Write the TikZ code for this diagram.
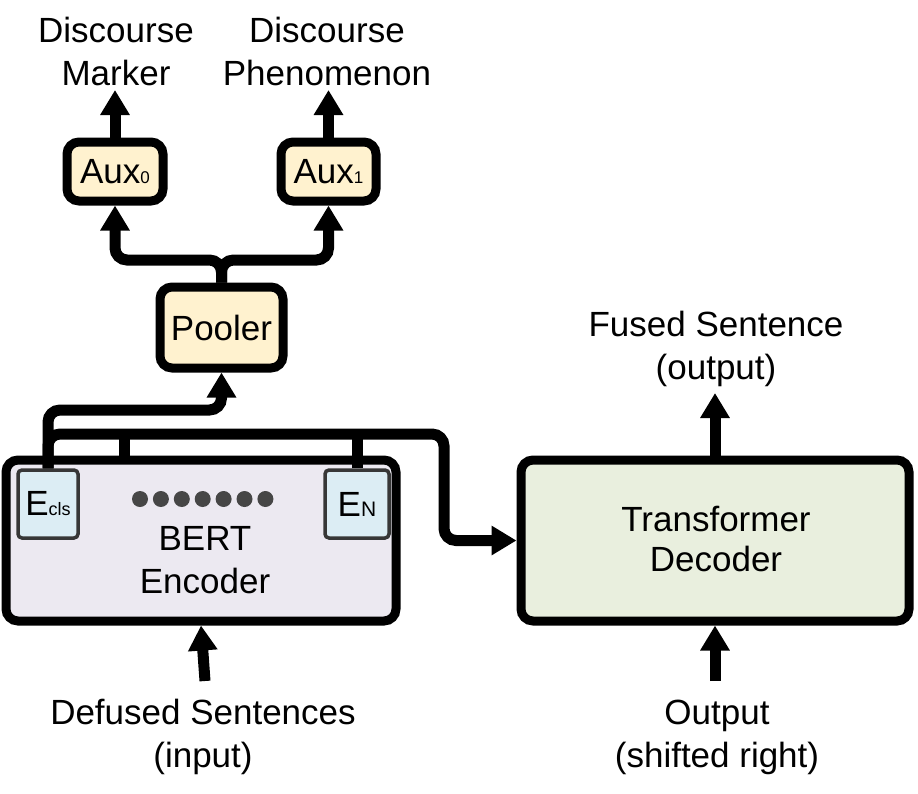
\documentclass[tikz,border=0pt]{standalone}
\usepackage{fontspec}
\setmainfont{Liberation Sans}
\usetikzlibrary{arrows.meta}
\definecolor{bertfill}{RGB}{236,233,241}
\definecolor{decfill}{RGB}{233,239,222}
\definecolor{yelfill}{RGB}{255,242,207}
\definecolor{embfill}{RGB}{220,237,244}
\definecolor{embdraw}{RGB}{55,55,55}
\definecolor{dotgray}{RGB}{70,70,70}
\begin{document}
\begin{tikzpicture}[x=1pt,y=-1pt,
  box/.style={draw=black, line width=9pt, rounded corners=12pt, inner sep=0pt, align=center,
    font=\fontsize{35}{41}\selectfont},
  ybox/.style={box, fill=yelfill},
  emb/.style={draw=embdraw, fill=embfill, line width=3.5pt, rounded corners=4pt, inner sep=0pt,
    minimum width=60pt, minimum height=68pt, font=\fontsize{35}{41}\selectfont},
  lbl/.style={align=center, inner sep=0pt, anchor=base, font=\fontsize{35}{43}\selectfont},
  conn/.style={line width=11pt, rounded corners=12pt},
  arr/.style={conn, -{Triangle[width=28pt,length=25pt]}}]
\useasboundingbox (0,0) rectangle (918,793);

% boxes
\node[box, fill=bertfill, minimum width=390pt, minimum height=161pt] (bert) at (201,540.5) {};
\node[box, fill=decfill, minimum width=388pt, minimum height=161pt] (dec) at (715,540.5) {};
\node[lbl, font=\fontsize{35}{40}\selectfont] (dectxt) at (716,571) {Transformer\\Decoder};
\node[ybox, minimum width=123pt, minimum height=81pt] (pool) at (221.5,327.5) {Pooler};
\node[ybox, minimum width=96pt, minimum height=59pt] (aux0) at (115,171.5) {Aux{\fontsize{17}{17}\selectfont 0}};
\node[ybox, minimum width=95pt, minimum height=59pt] (aux1) at (328.5,171.5) {Aux{\fontsize{17}{17}\selectfont 1}};
\node[emb] (ecls) at (48,504) {E{\fontsize{18}{18}\selectfont cls}};
\node[emb, minimum width=64pt] (en) at (357,504) {E{\fontsize{21}{21}\selectfont N}};
\node[lbl, font=\fontsize{35}{43}\selectfont] (berttxt) at (205,593) {BERT\\Encoder};

\foreach \i in {0,...,6} \fill[dotgray] (140+\i*20.9,499) circle (8pt);

% labels (anchor = baseline of last line)
\node[lbl] (dm) at (116,85) {Discourse\\Marker};
\node[lbl] (dp) at (327,85) {Discourse\\Phenomenon};
\node[lbl] (fs) at (716,379) {Fused Sentence\\(output)};
\node[lbl] (ds) at (203,767) {Defused Sentences\\(input)};
\node[lbl] (os) at (717,767) {Output\\(shifted right)};

% coordinates
\coordinate (dmtip) at (115,90);
\coordinate (dptip) at (328.5,90);
\coordinate (fstip) at (715,393);
\coordinate (dsbase) at (205,681);
\coordinate (osbase) at (715,681);
\coordinate (split) at (221.5,260);
\coordinate (bus) at (124,463);

% connectors
\draw[arr] (aux0.north) -- (dmtip);
\draw[arr] (aux1.north) -- (dptip);
\draw[arr] (pool.north) -- (split) -| (aux0.south);
\draw[arr] (pool.north) -- (split) -| (aux1.south);
\draw[arr] (ecls.north) -- (48,410) -| (pool.south);
\draw[arr] (ecls.north) -- (48,434) -- (444,434) |- (dec.west);
\draw[conn] (bus) -- (124,434);
\draw[conn] (en.north) -- (357,434);
\draw[arr] (dec.north) -- (fstip);
\draw[arr] (dsbase) -- (bert.south);
\draw[arr] (osbase) -- (dec.south);
\end{tikzpicture}
\end{document}
